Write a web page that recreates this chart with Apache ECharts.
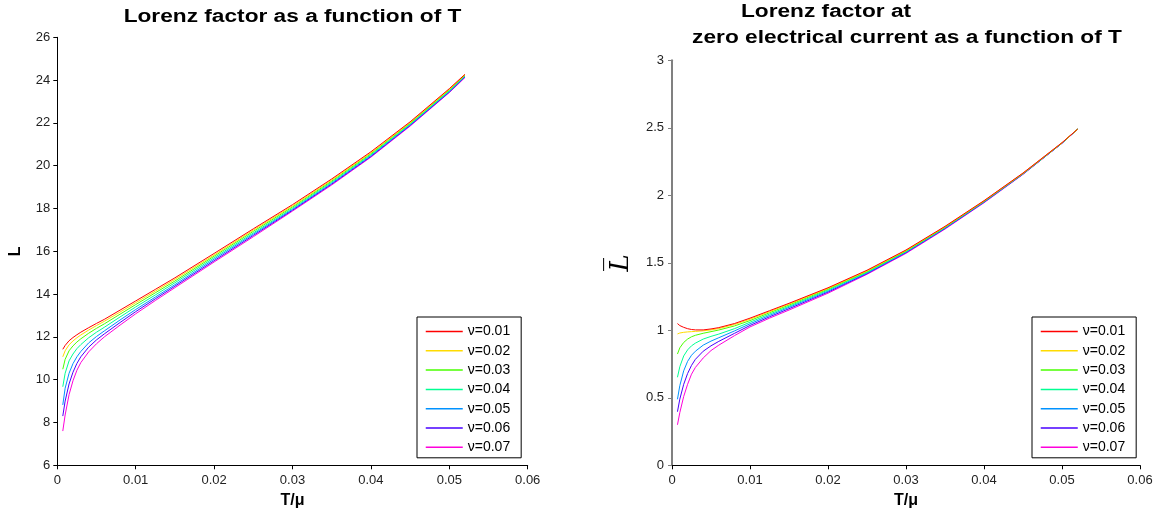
<!DOCTYPE html>
<html><head><meta charset="utf-8">
<script src="https://cdn.jsdelivr.net/npm/echarts@6/dist/echarts.min.js"></script>
<style>html,body{margin:0;padding:0;background:#fff}#c{width:1171px;height:517px}</style>
</head><body><div id="c"></div>
<script>
// Temperature grid T/mu
const T = [0.0007, 0.001, 0.0015, 0.002, 0.0025, 0.003, 0.004, 0.005, 0.006, 0.008, 0.01, 0.0125, 0.015, 0.02, 0.025, 0.03, 0.035, 0.04, 0.045, 0.05, 0.052];
const nuNames = ['ν=0.01', 'ν=0.02', 'ν=0.03', 'ν=0.04', 'ν=0.05', 'ν=0.06', 'ν=0.07'];
const colors = ['#FF0000', '#FFDB00', '#49FF00', '#00FF92', '#0092FF', '#4900FF', '#FF00DB'];
const xTickLabels = ['0', '0.01', '0.02', '0.03', '0.04', '0.05', '0.06'];

// Lorenz factor L
const L_nu01 = [11.42, 11.6, 11.82, 11.97, 12.1, 12.22, 12.43, 12.63, 12.82, 13.25, 13.68, 14.22, 14.76, 15.9, 17.05, 18.18, 19.38, 20.65, 22.05, 23.6, 24.27];
const L_nu02 = [11.07, 11.35, 11.63, 11.81, 11.96, 12.09, 12.32, 12.53, 12.73, 13.16, 13.6, 14.14, 14.69, 15.83, 16.99, 18.12, 19.33, 20.6, 22.01, 23.57, 24.25];
const L_nu03 = [10.49, 10.95, 11.35, 11.58, 11.76, 11.91, 12.17, 12.4, 12.61, 13.06, 13.51, 14.06, 14.61, 15.77, 16.93, 18.07, 19.28, 20.56, 21.98, 23.54, 24.23];
const L_nu04 = [9.67, 10.3, 10.88, 11.2, 11.45, 11.64, 11.96, 12.22, 12.45, 12.93, 13.4, 13.96, 14.53, 15.7, 16.86, 18.01, 19.23, 20.51, 21.94, 23.5, 24.2];
const L_nu05 = [8.82, 9.6, 10.3, 10.75, 11.07, 11.32, 11.72, 12.02, 12.28, 12.79, 13.28, 13.86, 14.44, 15.63, 16.8, 17.96, 19.18, 20.47, 21.91, 23.47, 24.18];
const L_nu06 = [8.30, 9.0, 9.8, 10.35, 10.76, 11.07, 11.52, 11.86, 12.14, 12.67, 13.18, 13.78, 14.37, 15.56, 16.74, 17.92, 19.14, 20.43, 21.88, 23.44, 24.15];
const L_nu07 = [7.6, 8.35, 9.3, 9.95, 10.44, 10.8, 11.3, 11.68, 12.0, 12.55, 13.08, 13.7, 14.3, 15.5, 16.68, 17.88, 19.1, 20.4, 21.85, 23.42, 24.12];

// Lorenz factor at zero electrical current
const Lbar_nu01 = [1.05, 1.035, 1.022, 1.012, 1.006, 1.003, 1.003, 1.01, 1.02, 1.05, 1.09, 1.145, 1.2, 1.315, 1.445, 1.595, 1.77, 1.96, 2.165, 2.39, 2.49];
const Lbar_nu02 = [0.973, 0.98, 0.985, 0.988, 0.99, 0.992, 0.996, 1.003, 1.013, 1.043, 1.082, 1.138, 1.194, 1.31, 1.44, 1.591, 1.767, 1.958, 2.163, 2.389, 2.49];
const Lbar_nu03 = [0.824, 0.87, 0.91, 0.935, 0.952, 0.963, 0.978, 0.99, 1.002, 1.032, 1.072, 1.13, 1.187, 1.305, 1.435, 1.587, 1.764, 1.956, 2.162, 2.388, 2.49];
const Lbar_nu04 = [0.652, 0.73, 0.81, 0.855, 0.885, 0.905, 0.935, 0.955, 0.972, 1.012, 1.06, 1.12, 1.178, 1.298, 1.43, 1.583, 1.761, 1.954, 2.16, 2.387, 2.49];
const Lbar_nu05 = [0.489, 0.59, 0.7, 0.77, 0.815, 0.845, 0.89, 0.92, 0.945, 0.995, 1.048, 1.11, 1.17, 1.29, 1.425, 1.579, 1.758, 1.951, 2.159, 2.386, 2.49];
const Lbar_nu06 = [0.397, 0.49, 0.60, 0.68, 0.74, 0.785, 0.845, 0.885, 0.918, 0.977, 1.036, 1.10, 1.16, 1.283, 1.42, 1.575, 1.754, 1.948, 2.157, 2.386, 2.49];
const Lbar_nu07 = [0.30, 0.39, 0.51, 0.60, 0.675, 0.725, 0.795, 0.85, 0.89, 0.96, 1.025, 1.09, 1.15, 1.275, 1.415, 1.57, 1.75, 1.945, 2.155, 2.385, 2.49];

const Lsets = [L_nu01, L_nu02, L_nu03, L_nu04, L_nu05, L_nu06, L_nu07];
const Lbarsets = [Lbar_nu01, Lbar_nu02, Lbar_nu03, Lbar_nu04, Lbar_nu05, Lbar_nu06, Lbar_nu07];

const FONT = '"Liberation Sans", Arial, sans-serif';

function mkX(gi) {
  return {
    type: 'value', gridIndex: gi, min: 0, max: 0.06, interval: 0.01,
    name: 'T/μ', nameLocation: 'middle', nameGap: 26,
    nameTextStyle: { fontFamily: FONT, fontWeight: 'bold', fontSize: 16, color: '#000' },
    axisLine: { show: true, lineStyle: { color: '#000', width: 1 } },
    axisTick: { show: true, length: 4, inside: false, lineStyle: { color: '#000' } },
    axisLabel: { fontFamily: FONT, fontSize: 13, color: '#222', margin: 9,
      formatter: v => xTickLabels[Math.round(v / 0.01)] },
    splitLine: { show: false }
  };
}

function mkSeries(sets, gi) {
  return sets.map((arr, i) => ({
    name: nuNames[i], type: 'line', xAxisIndex: gi, yAxisIndex: gi,
    data: T.map((t, k) => [t, arr[k]]),
    symbol: 'none', smooth: false,
    lineStyle: { color: colors[i], width: 1 }, itemStyle: { color: colors[i] },
    emphasis: { disabled: true }, z: 10 - i
  }));
}

function mkLegend(left) {
  return {
    data: nuNames,
    orient: 'vertical', left: left, top: 317,
    itemWidth: 37, itemHeight: 16, itemGap: 3.3,
    itemStyle: { opacity: 0 },
    lineStyle: { width: 1.5 },
    padding: [6.5, 11, 2.5, 8], borderColor: '#000', borderWidth: 1, backgroundColor: '#fff',
    textStyle: { fontFamily: FONT, fontSize: 14, lineHeight: 16, color: '#000' },
    selectedMode: false
  };
}

const chart = echarts.init(document.getElementById('c'), null, { renderer: 'canvas' });
chart.setOption({
  animation: false,
  backgroundColor: '#fff',
  color: colors,
  grid: [
    { left: 57.3, top: 37.3, width: 470.4, height: 428 },
    { left: 672, top: 60.3, width: 468, height: 405 }
  ],
  xAxis: [mkX(0), mkX(1)],
  yAxis: [
    { type: 'value', gridIndex: 0, min: 6, max: 26, interval: 2,
      name: 'L', nameLocation: 'middle', nameGap: 34,
      nameTextStyle: { fontFamily: FONT, fontWeight: 'bold', fontSize: 16, color: '#000' },
      axisLine: { show: true, lineStyle: { color: '#000', width: 1 } },
      axisTick: { show: true, length: 4, lineStyle: { color: '#000' } },
      axisLabel: { fontFamily: FONT, fontSize: 13, color: '#222', margin: 7 },
      splitLine: { show: false } },
    { type: 'value', gridIndex: 1, min: 0, max: 3, interval: 0.5,
      name: 'L\u0305', nameLocation: 'middle', nameGap: 38,
      nameTextStyle: { fontFamily: '"DejaVu Serif", "Liberation Serif", serif', fontStyle: 'italic', fontSize: 26, color: '#000' },
      axisLine: { show: true, lineStyle: { color: '#808080', width: 2 } },
      axisTick: { show: true, length: 4, lineStyle: { color: '#808080' } },
      axisLabel: { fontFamily: FONT, fontSize: 13, color: '#222', margin: 8 },
      splitLine: { show: false } }
  ],
  legend: [mkLegend(417), mkLegend(1032)],
  graphic: [
    { type: 'text', x: 292.5, y: 17, scaleX: 1.26, silent: true,
      style: { text: 'Lorenz factor as a function of T', font: 'bold 18px ' + FONT, fill: '#000', align: 'center', verticalAlign: 'middle' } },
    { type: 'text', x: 826, y: 12, scaleX: 1.26, silent: true,
      style: { text: 'Lorenz factor at', font: 'bold 18px ' + FONT, fill: '#000', align: 'center', verticalAlign: 'middle' } },
    { type: 'text', x: 907, y: 38, scaleX: 1.26, silent: true,
      style: { text: 'zero electrical current as a function of T', font: 'bold 18px ' + FONT, fill: '#000', align: 'center', verticalAlign: 'middle' } }
  ],
  series: mkSeries(Lsets, 0).concat(mkSeries(Lbarsets, 1))
});
</script>
</body></html>
